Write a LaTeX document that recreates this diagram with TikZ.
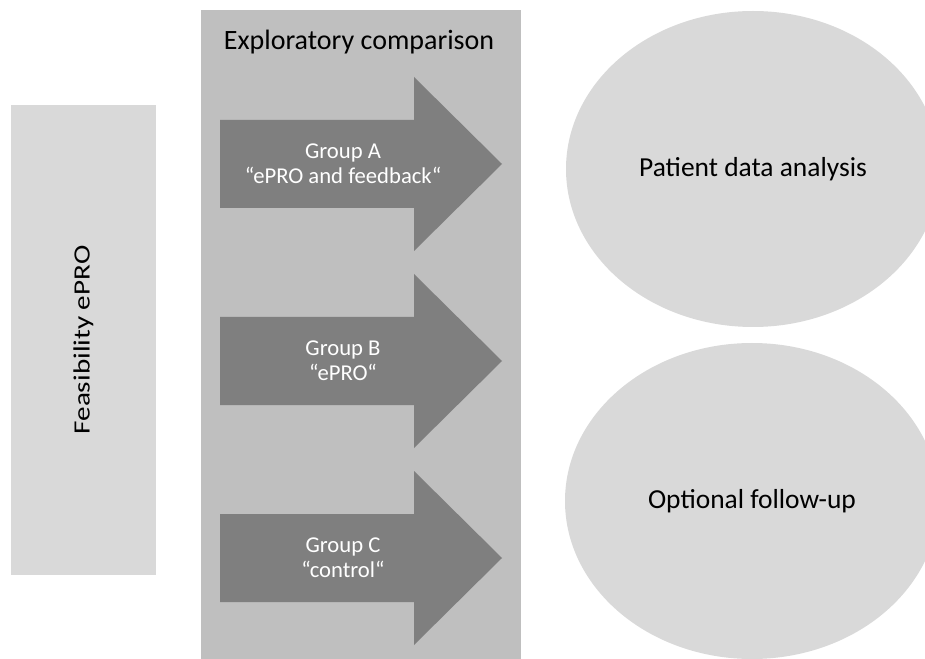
\documentclass[tikz,border=0pt]{standalone}
\usepackage{fontspec}
\setmainfont{Carlito}
\usetikzlibrary{positioning, shapes.geometric}
\definecolor{feasGray}{RGB}{217,217,217}
\definecolor{compGray}{RGB}{191,191,191}
\definecolor{groupGray}{RGB}{127,127,127}

\begin{document}
\begin{tikzpicture}[x=0.75pt, y=-0.75pt,
		groupText/.style={text=white, align=center, font=\fontsize{17}{19}\selectfont},
		ovalNode/.style={ellipse, fill=feasGray, minimum width=280.5pt, minimum height=237pt, font=\fontsize{20.6}{24}\selectfont}]
				\useasboundingbox (0,0) rectangle (925,659);
				\clip (0,0) rectangle (925,659);
				% feasibility phase
				\node[rotate=90, fill=feasGray, minimum width=352.5pt, minimum height=108.75pt, font=\fontsize{17.5}{20}\selectfont] (feas) at (83.5,340) {\scalebox{1.25}[1]{Feasibility ePRO}};
				% exploratory comparison
				\node[fill=compGray, anchor=north west, inner sep=0pt, minimum width=240pt, minimum height=487pt] (compBox) at (201,10) {};
				\node[font=\fontsize{21}{24}\selectfont] (compTitle) at (359,42) {Exploratory comparison};
				\foreach \y/\name/\txt in {164/grpA/{Group A\\“ePRO and feedback“}, 361/grpB/{Group B\\“ePRO“}, 558/grpC/{Group C\\“control“}} {
					\fill[groupGray] (220,\y-44) -- (414,\y-44) -- (414,\y-87) -- (502,\y) -- (414,\y+87) -- (414,\y+44) -- (220,\y+44) -- cycle;
					\node[groupText] (\name) at (343,\y) {\txt};
				}
				% outcomes
				\node[ovalNode] (analysis) at (753,169) {Patient data analysis};
				\node[ovalNode] (followup) at (752,501) {Optional follow-up};
			\end{tikzpicture}
\end{document}
